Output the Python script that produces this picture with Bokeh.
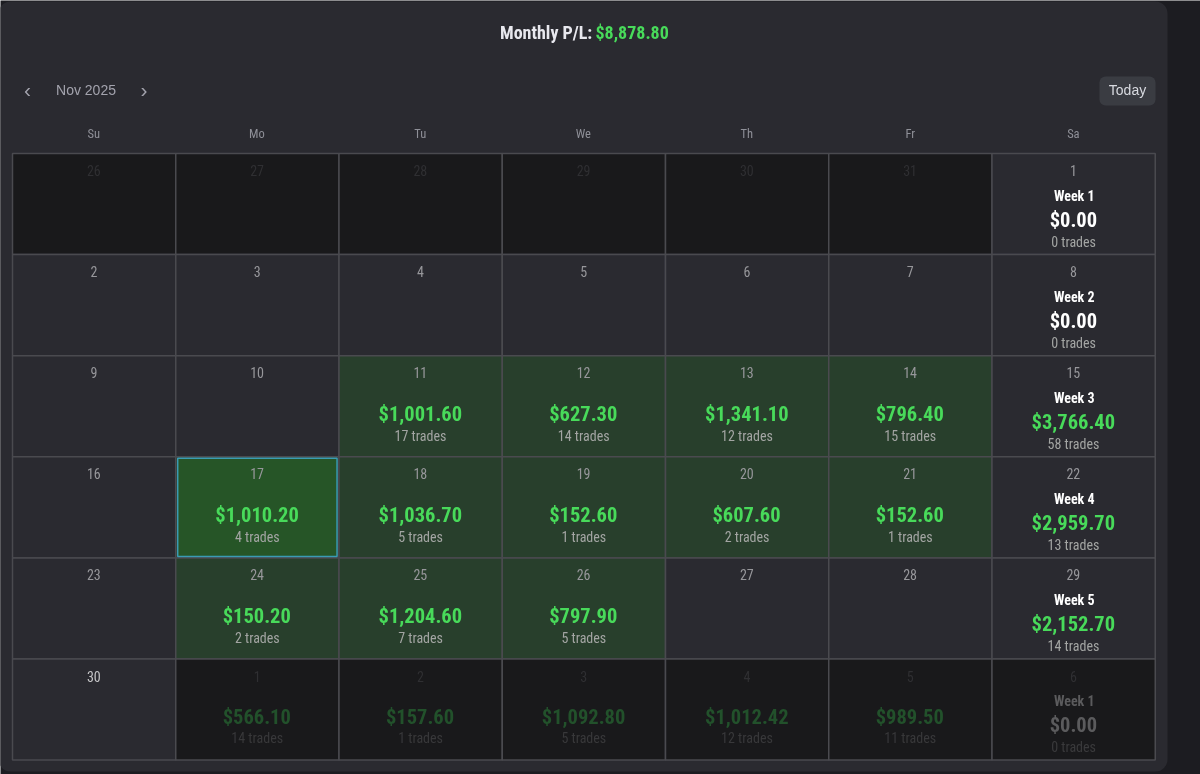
from bokeh.core.properties import value
from bokeh.embed import file_html
from bokeh.resources import INLINE
from bokeh.plotting import figure
from bokeh.models import BoxAnnotation, ColumnDataSource, Range1d

weekday_labels = ["Su", "Mo", "Tu", "We", "Th", "Fr", "Sa"]
month_label = "Nov 2025"
monthly_label = "Monthly P/L:"
monthly_pnl = 8878.80

day_numbers = [
    26, 27, 28, 29, 30, 31, 1,
    2, 3, 4, 5, 6, 7, 8,
    9, 10, 11, 12, 13, 14, 15,
    16, 17, 18, 19, 20, 21, 22,
    23, 24, 25, 26, 27, 28, 29,
    30, 1, 2, 3, 4, 5, 6,
]
daily_pnl = [
    None, None, None, None, None, None, None,
    None, None, None, None, None, None, None,
    None, None, 1001.60, 627.30, 1341.10, 796.40, None,
    None, 1010.20, 1036.70, 152.60, 607.60, 152.60, None,
    None, 150.20, 1204.60, 797.90, None, None, None,
    None, 566.10, 157.60, 1092.80, 1012.42, 989.50, None,
]
daily_trades = [
    None, None, None, None, None, None, None,
    None, None, None, None, None, None, None,
    None, None, 17, 14, 12, 15, None,
    None, 4, 5, 1, 2, 1, None,
    None, 2, 7, 5, None, None, None,
    None, 14, 1, 5, 12, 11, None,
]
week_labels = ["Week 1", "Week 2", "Week 3", "Week 4", "Week 5", "Week 1"]
week_pnl = [0.00, 0.00, 3766.40, 2959.70, 2152.70, 0.00]
week_trades = [0, 0, 58, 13, 14, 0]
today_day = 17

NARROW = value("Roboto")
SANS = value("Liberation Sans")
AMT_PX, TRADE_PX, WEEK_PX, DAY_PX, HEAD_PX = 20.5, 14, 14, 14, 12.5

# font-stretch narrows glyphs after Bokeh has measured them, so centred texts drift left
def nudge(txt, size, k=0.025):
    return k * len(txt) * size

cols, rows, fills = [], [], []
day_t, day_c, day_dx = [], [], []
amt_x, amt_y, amt_t, amt_c, amt_off, amt_dx = [], [], [], [], [], []
tr_x, tr_y, tr_t, tr_c, tr_off, tr_dx = [], [], [], [], [], []

for i, d in enumerate(day_numbers):
    r, c = divmod(i, 7)
    dim = (r == 0 and d > 20) or (r == 5 and d < 20)
    has = daily_pnl[i] is not None
    if dim:
        fill = "#19191b"
    elif has:
        fill = "#283f2c"
    else:
        fill = "#2a2a30"
    cols.append(c); rows.append(r); fills.append(fill)
    day_t.append(str(d))
    day_dx.append(nudge(str(d), DAY_PX))
    day_c.append("#2f2f32" if dim else ("#c4c4c6" if d == 30 else "#97979b"))
    if has:
        t = f"${daily_pnl[i]:,.2f}"
        amt_x.append(c + .5); amt_y.append(r); amt_t.append(t); amt_dx.append(nudge(t, AMT_PX))
        amt_c.append("#22512b" if dim else "#48da5a"); amt_off.append(58)
        t = f"{daily_trades[i]} trades"
        tr_x.append(c + .5); tr_y.append(r); tr_t.append(t); tr_dx.append(nudge(t, TRADE_PX))
        tr_c.append("#38383a" if dim else "#a3a5a3"); tr_off.append(79 if dim else 80)

wk_x, wk_y, wk_c, wk_dx = [], [], [], []
for r, v in enumerate(week_pnl):
    dim = r == 5
    wk_x.append(6.5); wk_y.append(r); wk_c.append("#5b5b5d" if dim else "#ffffff")
    wk_dx.append(nudge(week_labels[r], WEEK_PX, 0.04))
    t = f"${v:,.2f}"
    amt_x.append(6.5); amt_y.append(r); amt_t.append(t); amt_dx.append(nudge(t, AMT_PX))
    amt_c.append("#5b5b5d" if dim else ("#ffffff" if v == 0 else "#48da5a")); amt_off.append(66)
    t = f"{week_trades[r]} trades"
    tr_x.append(6.5); tr_y.append(r); tr_t.append(t); tr_dx.append(nudge(t, TRADE_PX))
    tr_c.append("#3a3a3c" if dim else "#a3a5a3"); tr_off.append(88)

CW, RH, X0, Y0 = 163.25, 101.1, 12.0, 153.0
p = figure(
    width=1200, height=774, output_backend="svg", toolbar_location=None,
    x_range=Range1d(-X0 / CW, (1200 - X0) / CW),
    y_range=Range1d((774 - Y0) / RH, -Y0 / RH),
    min_border=0, background_fill_color="#1c1c21", border_fill_color="#1c1c21",
    x_axis_type=None, y_axis_type=None, outline_line_color=None,
    styles={"position": "fixed", "left": "0px", "top": "0px", "font-stretch": "75%"},
)
p.grid.visible = False

p.add_layout(BoxAnnotation(left=-2, right=1167, top=773, bottom=3, left_units="screen", right_units="screen",
                           top_units="screen", bottom_units="screen", fill_color="#2a2a30", fill_alpha=1,
                           line_color=None, border_radius=12, level="image"))
p.add_layout(BoxAnnotation(left=1099, right=1155, top=698, bottom=669, left_units="screen", right_units="screen",
                           top_units="screen", bottom_units="screen", fill_color="#3a3c42", fill_alpha=1,
                           line_color=None, border_radius=6, level="underlay"))

cells = ColumnDataSource(dict(l=cols, r=[c + 1 for c in cols], t=rows, b=[r + 1 for r in rows], f=fills))
p.quad(left="l", right="r", top="t", bottom="b", fill_color="f", line_color="#4a4a4f", line_width=1.5, source=cells)

ti = day_numbers.index(today_day, 14)
tc, tr_ = cols[ti], rows[ti]
p.quad(left=[tc + 0.012], right=[tc + 0.988], top=[tr_ + 0.014], bottom=[tr_ + 0.986],
       fill_color="#265527", line_color="#3a9bb4", line_width=1.5)

head = ColumnDataSource(dict(x=[c + .5 for c in range(7)], y=[-0.2] * 7, t=weekday_labels,
                             d=[nudge(w, HEAD_PX) for w in weekday_labels]))
p.text(x="x", y="y", text="t", x_offset="d", text_font=NARROW, text_font_size=f"{HEAD_PX}px",
       text_color="#8f9098", text_align="center", text_baseline="middle", source=head)

days = ColumnDataSource(dict(x=[c + .5 for c in cols], y=rows, t=day_t, c=day_c, d=day_dx))
p.text(x="x", y="y", text="t", text_color="c", x_offset="d", text_font=NARROW,
       text_font_size=f"{DAY_PX}px", text_align="center", text_baseline="middle", y_offset=17, source=days)

wk = ColumnDataSource(dict(x=wk_x, y=wk_y, t=week_labels, c=wk_c, d=wk_dx))
p.text(x="x", y="y", text="t", text_color="c", x_offset="d", text_font=NARROW, text_font_style="bold",
       text_font_size=f"{WEEK_PX}px", text_align="center", text_baseline="middle", y_offset=42, source=wk)

amt = ColumnDataSource(dict(x=amt_x, y=amt_y, t=amt_t, c=amt_c, o=amt_off, d=amt_dx))
p.text(x="x", y="y", text="t", text_color="c", x_offset="d", y_offset="o", text_font=NARROW, text_font_style="bold",
       text_font_size=f"{AMT_PX}px", text_align="center", text_baseline="middle", source=amt)
trs = ColumnDataSource(dict(x=tr_x, y=tr_y, t=tr_t, c=tr_c, o=tr_off, d=tr_dx))
p.text(x="x", y="y", text="t", text_color="c", x_offset="d", y_offset="o", text_font=NARROW,
       text_font_size=f"{TRADE_PX}px", text_align="center", text_baseline="middle", source=trs)

def at(px, py):
    return (px - X0) / CW, (py - Y0) / RH

tx, ty = at(499.5, 31.5)
p.text(x=[tx], y=[ty], text=[monthly_label], text_color="#e8e8ee", text_font=NARROW, text_font_style="bold",
       text_font_size="18px", text_align="left", text_baseline="middle")
tx, ty = at(595, 31.5)
p.text(x=[tx], y=[ty], text=[f"${monthly_pnl:,.2f}"], text_color="#48da5a", text_font=NARROW, text_font_style="bold",
       text_font_size="18px", text_align="left", text_baseline="middle")

tx, ty = at(85.5, 89.5)
p.text(x=[tx], y=[ty], text=[month_label], text_color="#a3a3ad", text_font=SANS, text_font_size="14px",
       text_align="center", text_baseline="middle")
tx, ty = at(27, 88.5)
p.text(x=[tx], y=[ty], text=["‹"], text_color="#a3a3ad", text_font=SANS, text_font_size="21px",
       text_align="center", text_baseline="middle")
tx, ty = at(143.5, 88.5)
p.text(x=[tx], y=[ty], text=["›"], text_color="#a3a3ad", text_font=SANS, text_font_size="21px",
       text_align="center", text_baseline="middle")
tx, ty = at(1127, 89.5)
p.text(x=[tx], y=[ty], text=["Today"], text_color="#d8dae0", text_font=SANS, text_font_size="14px",
       text_align="center", text_baseline="middle")

open("out.html", "w").write(file_html(p, INLINE))
